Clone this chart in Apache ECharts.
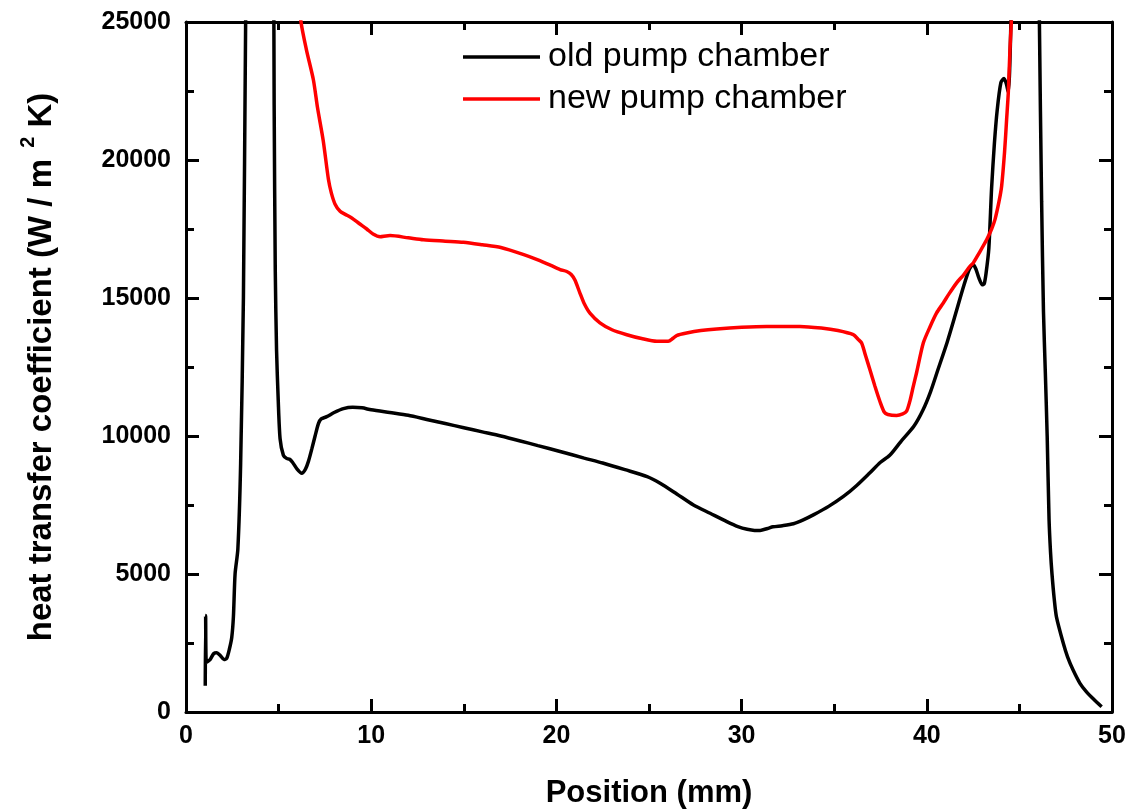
<!DOCTYPE html>
<html>
<head>
<meta charset="utf-8">
<script src="https://cdn.jsdelivr.net/npm/echarts@6/dist/echarts.min.js"></script>
<style>
html,body{margin:0;padding:0;background:#fff;}
#chart{width:1128px;height:809px;}
</style>
</head>
<body>
<div id="chart"></div>
<script>
// ---- data ----
const oldX = [1.04,1.06,1.1,1.3,1.5,1.66,1.85,2.05,2.2,2.35,2.47,2.56,2.65,2.8,2.95,3.1,3.22,3.5,4.0,4.5,4.72,4.76,4.82,4.89,4.98,5.08,5.26,5.45,5.6,5.75,6.0,6.25,6.45,6.61,6.8,6.97,7.15,7.3,7.6,8.0,8.5,9.0,9.5,10.0,11.0,12.0,13.0,14.0,15.0,16.0,17.0,18.0,19.0,20.2,21.5,22.5,23.7,24.9,25.6,26.5,27.4,28.3,29.2,29.8,30.3,30.7,31.0,31.4,31.7,32.2,32.8,33.3,33.9,34.7,35.5,36.2,36.9,37.5,38.0,38.6,39.3,39.8,40.2,40.6,41.1,41.5,42.0,42.3,42.5,42.65,42.8,43.0,43.1,43.2,43.35,43.5,43.65,43.8,44.0,44.17,44.3,44.4,44.47,44.55,45.0,45.6,46.08,46.2,46.3,46.4,46.5,46.6,46.68,46.76,46.88,47.0,47.37,47.6,47.9,48.27,48.6,49.0,49.44];
const oldY = [950,3500,1800,1900,2120,2150,2050,1900,1950,2300,2700,3450,5000,5900,9000,15000,25000,45000,70000,45000,29000,22000,16000,13100,11300,9900,9300,9180,9160,9050,8800,8650,8800,9080,9550,10000,10450,10620,10700,10850,10990,11040,11020,10950,10850,10750,10600,10450,10300,10150,10000,9830,9650,9440,9200,9020,8780,8530,8290,7900,7500,7200,6900,6720,6620,6580,6580,6650,6710,6750,6820,6950,7150,7450,7810,8200,8650,9050,9300,9800,10350,10950,11600,12400,13400,14300,15450,16050,16220,16050,15750,15480,15520,15900,16800,19000,20600,21800,22800,22950,22750,22450,23200,25500,60000,60000,25000,18500,14500,12300,10000,7000,5800,5000,4100,3450,2490,2000,1520,1040,750,470,190];

const newX = [5.9,6.21,6.5,6.88,7.1,7.41,7.69,7.85,8.05,8.32,8.6,8.95,9.35,9.76,10.1,10.48,10.8,11.02,12.0,12.82,14.0,14.98,16.0,17.0,18.2,19.0,19.7,20.2,20.56,20.8,21.0,21.27,21.5,21.81,22.35,23.0,23.8,24.6,25.42,26.04,26.3,26.49,27.03,27.8,28.66,30.0,31.35,33.15,34.3,35.2,36.03,36.3,36.48,36.7,36.93,37.2,37.47,37.7,37.9,38.37,38.7,38.91,39.1,39.27,39.45,39.81,40.17,40.53,40.89,41.2,41.61,42.0,42.33,42.51,42.8,43.23,43.5,43.68,43.9,44.04,44.2,44.31,44.4,44.49,44.6,44.75];
const newY = [27000,25000,24000,22900,21900,20700,19300,18800,18400,18140,18030,17900,17700,17500,17320,17220,17250,17260,17180,17110,17060,17020,16930,16830,16580,16380,16180,16030,15960,15850,15650,15180,14800,14450,14100,13850,13670,13530,13430,13430,13540,13640,13730,13820,13880,13940,13970,13970,13910,13820,13670,13500,13370,12900,12400,11800,11250,10870,10780,10745,10800,10900,11300,11800,12300,13370,13950,14460,14820,15150,15550,15850,16150,16270,16600,17110,17500,17840,18500,19050,20300,21470,22430,24000,25500,28000];

const seriesNames = ['old pump chamber','new pump chamber'];
const xTicks = [0,10,20,30,40,50];
const yTicks = [0,5000,10000,15000,20000,25000];
const xTitle = 'Position (mm)';
const yTitleMain = 'heat transfer coefficient (W / m';
const yTitleSup = '2';
const yTitleEnd = ' K)';

const pairs = (xs, ys) => xs.map((x,i)=>[x, ys[i]]);

const FONT = '"Liberation Sans", Arial, Helvetica, sans-serif';
const axisCommon = {
  axisLine:{show:true, onZero:false, lineStyle:{color:'#000', width:3}},
  axisTick:{show:true, inside:true, length:13, lineStyle:{color:'#000', width:3}},
  minorTick:{show:true, splitNumber:2, length:8, lineStyle:{color:'#000', width:3}},
  splitLine:{show:false}
};

const chart = echarts.init(document.getElementById('chart'), null, {renderer:'canvas'});
chart.setOption({
  animation:false,
  backgroundColor:'#fff',
  grid:{left:186, right:16, top:22, bottom:97, containLabel:false, outerBoundsMode:'none'},
  legend:{
    data:seriesNames.map(n=>({name:n, icon:'rect'})),
    orient:'vertical',
    left:463, top:40, padding:0,
    itemWidth:77, itemHeight:3.5, itemGap:8,
    textStyle:{fontFamily:FONT, fontSize:34, color:'#000', lineHeight:34, padding:[0,0,0,3]}
  },
  xAxis:[
    Object.assign({
      type:'value', min:xTicks[0], max:xTicks[xTicks.length-1], interval:10, position:'bottom',
      axisLabel:{show:true, margin:12, color:'#000', fontFamily:FONT, fontWeight:'bold', fontSize:25,
        formatter:v=>String(v)},
      name:xTitle, nameLocation:'middle', nameGap:66,
      nameTextStyle:{fontFamily:FONT, fontWeight:'bold', fontSize:31, color:'#000'}
    }, axisCommon),
    Object.assign({
      type:'value', min:xTicks[0], max:xTicks[xTicks.length-1], interval:10, position:'top',
      axisLabel:{show:false}
    }, axisCommon)
  ],
  yAxis:[
    Object.assign({
      type:'value', min:yTicks[0], max:yTicks[yTicks.length-1], interval:5000, position:'left',
      axisLabel:{show:true, margin:15, color:'#000', fontFamily:FONT, fontWeight:'bold', fontSize:25,
        formatter:v=>String(v)},
      name:'{a|'+yTitleMain+'}{s|  '+yTitleSup+'}{a|'+yTitleEnd+'}',
      nameLocation:'middle', nameGap:128, nameRotate:90,
      nameTextStyle:{fontFamily:FONT, fontWeight:'bold', fontSize:33, color:'#000',
        rich:{
          a:{fontFamily:FONT, fontWeight:'bold', fontSize:33, color:'#000', lineHeight:40, verticalAlign:'bottom'},
          s:{fontFamily:FONT, fontWeight:'bold', fontSize:20, color:'#000', lineHeight:40, verticalAlign:'top'}
        }}
    }, axisCommon),
    Object.assign({
      type:'value', min:yTicks[0], max:yTicks[yTicks.length-1], interval:5000, position:'right',
      axisLabel:{show:false}
    }, axisCommon)
  ],
  series:[
    {name:seriesNames[0], type:'line', xAxisIndex:0, yAxisIndex:0, data:pairs(oldX, oldY),
     showSymbol:false, symbol:'none', smooth:0.25, clip:true,
     lineStyle:{color:'#000', width:3.5}, itemStyle:{color:'#000'}},
    {name:seriesNames[1], type:'line', xAxisIndex:0, yAxisIndex:0, data:pairs(newX, newY),
     showSymbol:false, symbol:'none', smooth:0.25, clip:true,
     lineStyle:{color:'#ff0000', width:3.5}, itemStyle:{color:'#ff0000'}}
  ]
});
</script>
</body>
</html>
